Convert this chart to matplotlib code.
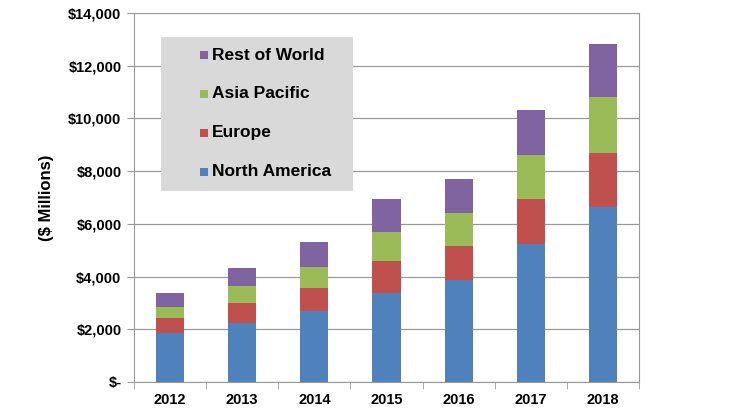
import numpy as np
import matplotlib; matplotlib.use("Agg")
import matplotlib.pyplot as plt
from matplotlib.patches import Rectangle

plt.rcParams['font.family'] = ['Liberation Sans', 'DejaVu Sans']

years = ['2012', '2013', '2014', '2015', '2016', '2017', '2018']
north_america = [1870, 2250, 2680, 3365, 3860, 5220, 6650]
europe = [570, 750, 900, 1240, 1300, 1720, 2040]
asia_pacific = [420, 645, 770, 1100, 1240, 1680, 2120]
rest_of_world = [530, 670, 950, 1250, 1300, 1700, 2000]
series = ['North America', 'Europe', 'Asia Pacific', 'Rest of World']
colors = ['#4F81BD', '#C0504D', '#9BBB59', '#8064A2']

W, H = 752, 418
fig = plt.figure(figsize=(W/100, H/100), dpi=100)
ax = fig.add_axes([134/W, 1-382/H, 505/W, 369/H])

x = np.arange(len(years))
bottom = np.zeros(len(years))
for vals, c in zip([north_america, europe, asia_pacific, rest_of_world], colors):
    ax.bar(x, vals, 0.39, bottom=bottom, color=c, zorder=3)
    bottom += np.array(vals)

ax.set_xlim(-0.5, 6.5); ax.set_ylim(0, 14000)
ax.set_yticks(np.arange(0, 14001, 2000))
ax.set_yticklabels(['$-'] + ['${:,}'.format(v) for v in range(2000, 14001, 2000)],
                   fontsize=10.5, fontweight='bold')
ax.set_xticks(x)
ax.set_xticklabels(years, fontsize=10.5, fontweight='bold')
ax.set_xticks(np.arange(-0.5, 7, 1), minor=True)
ax.tick_params(axis='x', which='major', length=0, pad=8)
ax.tick_params(axis='x', which='minor', length=5, color='#999999')
ax.tick_params(axis='y', length=5, color='#999999', pad=4)
ax.grid(axis='y', color='#999999', lw=0.9, zorder=0)
for s in ax.spines.values():
    s.set_color('#999999')
ax.spines['top'].set_visible(False)
ax.set_ylabel('($ Millions)', fontsize=12, fontweight='bold', labelpad=10)

# legend drawn by hand (gray box, small square markers, reversed order)
def px(xp, yp):
    return xp/W, 1-yp/H
fig.patches.append(Rectangle(px(161, 191), 192/W, 154/H, transform=fig.transFigure,
                             facecolor='#D9D9D9', edgecolor='none', zorder=5))
for i, (s, c) in enumerate(zip(series[::-1], colors[::-1])):
    yc = 55 + 39*i
    fig.patches.append(Rectangle(px(200, yc+4), 8/W, 8/H, transform=fig.transFigure,
                                 facecolor=c, edgecolor='none', zorder=6))
    fig.text(*px(212, yc), s, fontsize=12.5, fontweight='bold', va='center', ha='left', zorder=7)

fig.savefig('out.png', dpi=100)
